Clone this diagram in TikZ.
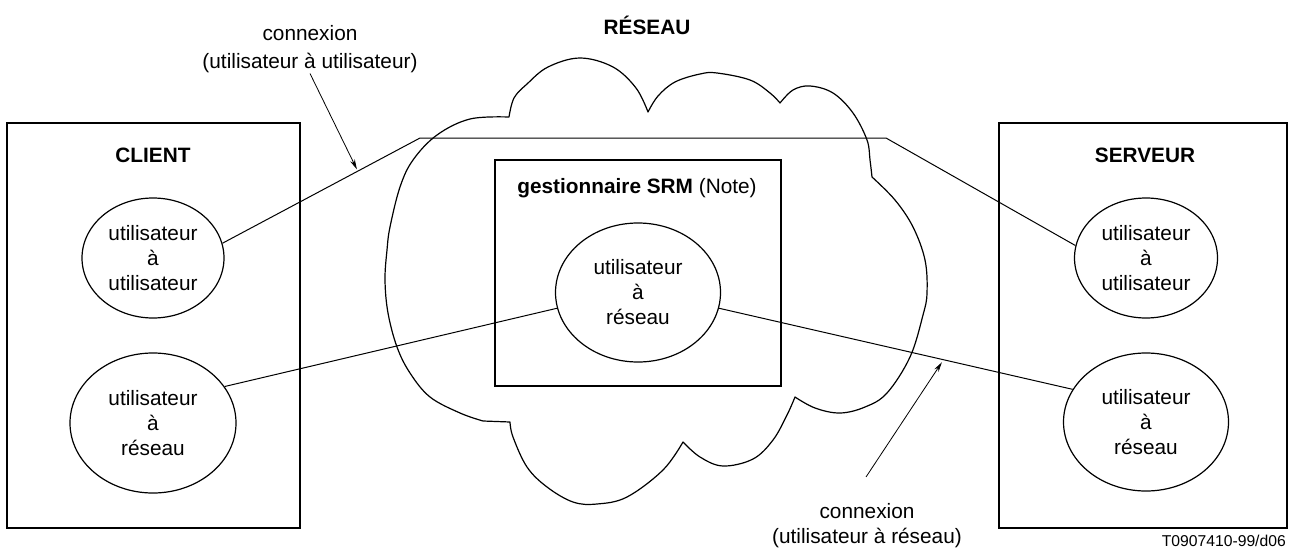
\documentclass[tikz,border=0pt]{standalone}
\usepackage{fontspec}
\setmainfont{Liberation Sans}
\usetikzlibrary{shapes.geometric,arrows.meta,calc}
\begin{document}
\begin{tikzpicture}[x=1pt,y=-1pt,
  every node/.style={font=\fontsize{20.8}{25}\selectfont, inner sep=1pt},
  frame/.style={draw, line width=1.4pt, inner sep=0pt},
  bubble/.style={draw, ellipse, line width=1.2pt, inner sep=0pt, align=center},
  heading/.style={font=\fontsize{20.8}{25}\selectfont\bfseries},
  txt/.style={anchor=base},
  link/.style={line width=1pt},
  pointer/.style={line width=0.8pt, -{Stealth[length=10pt,width=5pt]}},
  cloudline/.style={line width=1.2pt, line join=round},
]
\useasboundingbox (0,0) rectangle (1297,554);

% network cloud
\draw[cloudline]
  plot[smooth, tension=0.6] coordinates {(509,117)(514,98)(527,84)(548,67)(580,58)(613,67)(636,88)(648,112)}
  -- plot[smooth, tension=0.6] coordinates {(648,112)(658,96)(675,82)(700,74)(717,73)(750,80)(770,93)(780,103)}
  -- plot[smooth, tension=0.6] coordinates {(780,103)(793,90)(810,86)(833,93)(853,113)(867,140)(870,160)(872,177)}
  -- plot[smooth, tension=0.6] coordinates {(872,177)(895,200)(913,227)(925,260)(927,293)(923,315)(910,357)(887,393)(865,407)(840,413)(815,408)(795,397)}
  -- plot[smooth, tension=0.6] coordinates {(795,397)(787,415)(773,440)(753,459)(723,466)(700,457)(683,442)}
  -- plot[smooth, tension=0.6] coordinates {(683,442)(663,470)(627,497)(597,504)(573,502)(547,487)(527,467)(513,437)(510,422)}
  -- (483,421)
  -- plot[smooth, tension=0.6] coordinates {(483,421)(460,413)(430,397)(410,373)(397,347)(388,313)(385,280)(387,250)(390,227)(400,187)(413,160)(437,135)(470,119)(509,117)}
  -- cycle;
\node[heading] (net) at (647,25) {RÉSEAU};

% client side
\node[frame, minimum width=293pt, minimum height=405pt] (client) at (153.5,325.5) {};
\node[heading] (clientlbl) at (153,155) {CLIENT};
\node[bubble, minimum width=142pt, minimum height=120pt] (cliuu) at (153,258) {utilisateur\\à\\utilisateur};
\node[bubble, minimum width=166pt, minimum height=140pt] (clinet) at (153,423) {utilisateur\\à\\réseau};

% server side
\node[frame, minimum width=288pt, minimum height=405pt] (server) at (1143,325.5) {};
\node[heading] (serverlbl) at (1145,155) {SERVEUR};
\node[bubble, minimum width=143pt, minimum height=120pt] (srvuu) at (1146,258) {utilisateur\\à\\utilisateur};
\node[bubble, minimum width=165pt, minimum height=138pt] (srvnet) at (1146,422) {utilisateur\\à\\réseau};

% SRM manager inside the network
\node[frame, line width=1.2pt, minimum width=286pt, minimum height=226pt] (srm) at (638,273) {};
\node (srmlbl) at (637,188) {\textbf{gestionnaire SRM} (Note)};
\node[bubble, minimum width=165pt, minimum height=139pt] (midnet) at (638,292.5) {utilisateur\\à\\réseau};

% connections
\coordinate (k1) at (420,138);
\coordinate (k2) at (886,138);
\draw[link] (cliuu.12) -- (k1) -- (k2) -- (srvuu.170);
\draw[link] (clinet.27) -- (midnet.191);
\draw[link] (midnet.349) -- (srvnet.156);

% annotations
\node[txt] (uu1) at (310,40) {connexion};
\node[txt] (uu2) at (310,68) {(utilisateur à utilisateur)};
\coordinate (t1) at ($(cliuu.12)!0.685!(k1)$);
\draw[pointer, shorten >=2pt] (uu2.south) -- (t1);

\node[txt] (ur1) at (867,518) {connexion};
\node[txt] (ur2) at (867,543) {(utilisateur à réseau)};
\coordinate (s2) at (866,477);
\coordinate (t2) at ($(midnet.349)!0.635!(srvnet.156)$);
\draw[pointer, shorten >=3pt] (s2) -- (t2);

\node[anchor=base east, font=\fontsize{15.7}{18}\selectfont] (ref) at (1287,546) {T0907410-99/d06};
\end{tikzpicture}
\end{document}
